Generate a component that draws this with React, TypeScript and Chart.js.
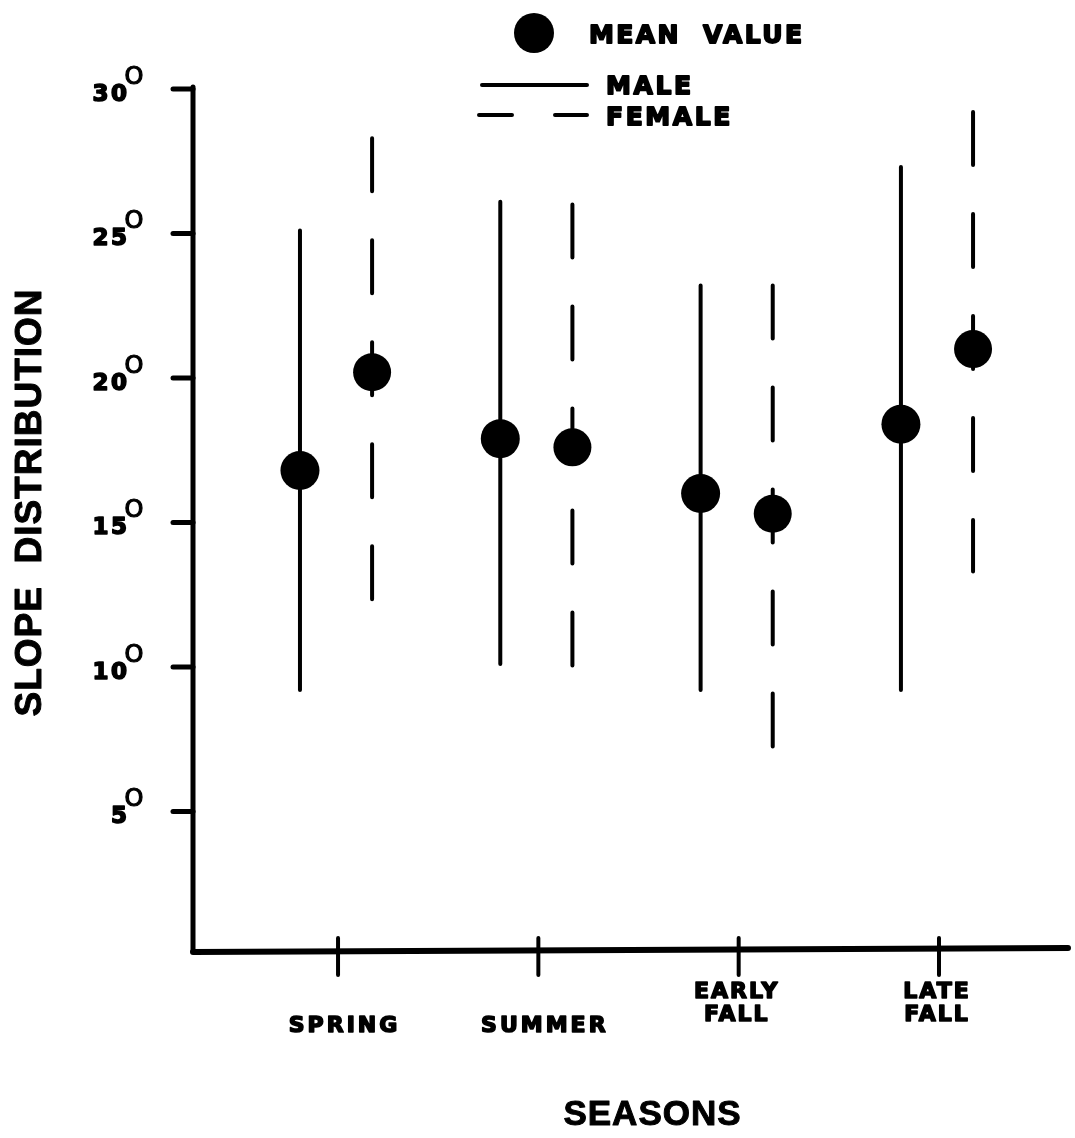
import React, { useEffect, useRef } from "react";
import { Chart, registerables } from "chart.js";

Chart.register(...registerables);

// ---- data ----
const seasonLabels: string[][] = [["SPRING"], ["SUMMER"], ["EARLY", "FALL"], ["LATE", "FALL"]];
const maleLow = [9.2, 10.1, 9.2, 9.2];
const maleHigh = [25.1, 26.1, 23.2, 27.3];
const maleMean = [16.8, 17.9, 16.0, 18.4];
const femaleLow = [12.2, 10.0, 7.2, 13.3];
const femaleHigh = [28.3, 26.0, 23.2, 29.2];
const femaleMean = [20.2, 17.6, 15.3, 21.0];
const yTicks = [5, 10, 15, 20, 25, 30];
const yTitle = "SLOPE  DISTRIBUTION";
const xTitle = "SEASONS";
const legendMean = "MEAN  VALUE";
const legendMale = "MALE";
const legendFemale = "FEMALE";

// ---- layout constants ----
const MALE_OFFSET = -0.19;
const FEMALE_OFFSET = 0.17;
const X_MIN = 0.276;
const X_MAX = 4.644;
const Y_MIN = 0.17;
const Y_MAX = 30;
const W = 1075;
const H = 1138;

function drawText(
  ctx: CanvasRenderingContext2D,
  text: string,
  x: number,
  y: number,
  font: string,
  spacing: number,
  align: "left" | "center" | "right",
  stroke = 0
) {
  ctx.save();
  ctx.font = font;
  (ctx as any).letterSpacing = spacing + "px";
  ctx.textAlign = "left";
  ctx.textBaseline = "alphabetic";
  const w = ctx.measureText(text).width - spacing;
  let lx = x;
  if (align === "center") lx = x - w / 2;
  else if (align === "right") lx = x - w;
  ctx.fillStyle = "#000";
  ctx.fillText(text, lx, y);
  if (stroke > 0) {
    ctx.strokeStyle = "#000";
    ctx.lineWidth = stroke;
    ctx.lineJoin = "round";
    ctx.strokeText(text, lx, y);
  }
  ctx.restore();
}

const decorPlugin = {
  id: "decor",
  afterDraw(chart: any) {
    const ctx: CanvasRenderingContext2D = chart.ctx;
    const area = chart.chartArea;
    const xs = chart.scales.x;
    const ys = chart.scales.y;
    ctx.save();
    ctx.strokeStyle = "#000";
    ctx.fillStyle = "#000";
    ctx.lineCap = "round";

    // y axis
    ctx.lineWidth = 5;
    ctx.beginPath();
    ctx.moveTo(area.left, ys.getPixelForValue(Y_MAX) - 2);
    ctx.lineTo(area.left, area.bottom);
    ctx.stroke();
    // x axis
    ctx.lineWidth = 6;
    ctx.beginPath();
    ctx.moveTo(area.left, area.bottom + 1);
    ctx.lineTo(area.right, area.bottom - 3);
    ctx.stroke();

    // y ticks and labels
    yTicks.forEach((v) => {
      const py = ys.getPixelForValue(v);
      ctx.lineWidth = 5;
      ctx.beginPath();
      ctx.moveTo(area.left - 20, py);
      ctx.lineTo(area.left, py);
      ctx.stroke();
      drawText(ctx, String(v), 127, py + 12, 'bold 23px "DejaVu Sans"', 2.5, "right", 1.6);
      drawText(ctx, "O", 134, py - 5, '24px "DejaVu Sans"', 0, "center", 1.2);
    });

    // x ticks and labels
    seasonLabels.forEach((lines, i) => {
      const px = xs.getPixelForValue(i + 1);
      ctx.lineWidth = 4;
      ctx.beginPath();
      ctx.moveTo(px, area.bottom - 13);
      ctx.lineTo(px, area.bottom + 24);
      ctx.stroke();
      const f = 'bold 22px "DejaVu Sans"';
      if (lines.length === 1) {
        drawText(ctx, lines[0], px + 5, 1032, f, 3, "center", 1.6);
      } else {
        drawText(ctx, lines[0], px - 3, 998, f, 2, "center", 1.6);
        drawText(ctx, lines[1], px - 3, 1021, f, 2, "center", 1.6);
      }
    });

    // axis titles
    ctx.save();
    ctx.translate(28, 503);
    ctx.rotate(-Math.PI / 2);
    drawText(ctx, yTitle, 0, 13, 'bold 37px "Liberation Sans"', 1, "center", 1);
    ctx.restore();
    drawText(ctx, xTitle, 652, 1125, 'bold 35px "Liberation Sans"', 1, "center", 1);

    // legend
    ctx.beginPath();
    ctx.arc(534, 33, 20, 0, Math.PI * 2);
    ctx.fill();
    const lf = 'bold 25px "DejaVu Sans"';
    drawText(ctx, legendMean, 589, 43, lf, 2.4, "left", 1.8);
    ctx.lineWidth = 4;
    ctx.beginPath();
    ctx.moveTo(482, 85);
    ctx.lineTo(587, 85);
    ctx.stroke();
    drawText(ctx, legendMale, 606, 94, lf, 2.6, "left", 1.8);
    ctx.beginPath();
    ctx.moveTo(479, 115);
    ctx.lineTo(512, 115);
    ctx.moveTo(555, 115);
    ctx.lineTo(587, 115);
    ctx.stroke();
    drawText(ctx, legendFemale, 606, 125, lf, 2.6, "left", 1.8);

    ctx.restore();
  },
};

export default function App() {
  const ref = useRef<HTMLCanvasElement>(null);
  useEffect(() => {
    document.body.style.margin = "0";
    const canvas = ref.current;
    if (!canvas) return;
    const datasets: any[] = [];
    datasets.push({
      label: "Male mean",
      data: maleMean.map((v, i) => ({ x: i + 1 + MALE_OFFSET, y: v })),
      pointRadius: 19.5,
      pointBackgroundColor: "#000",
      pointBorderWidth: 0,
      showLine: false,
      order: 0,
      clip: false,
    });
    datasets.push({
      label: "Female mean",
      data: femaleMean.map((v, i) => ({ x: i + 1 + FEMALE_OFFSET, y: v })),
      pointRadius: 19,
      pointBackgroundColor: "#000",
      pointBorderWidth: 0,
      showLine: false,
      order: 0,
      clip: false,
    });
    seasonLabels.forEach((s, i) => {
      const mx = i + 1 + MALE_OFFSET;
      const fx = i + 1 + FEMALE_OFFSET;
      datasets.push({
        label: "Male " + s.join(" "),
        data: [
          { x: mx, y: maleHigh[i] },
          { x: mx, y: maleLow[i] },
        ],
        showLine: true,
        borderColor: "#000",
        borderWidth: 4,
        borderCapStyle: "round",
        pointRadius: 0,
        order: 1,
        clip: false,
      });
      datasets.push({
        label: "Female " + s.join(" "),
        data: [
          { x: fx, y: femaleHigh[i] },
          { x: fx, y: femaleLow[i] },
        ],
        showLine: true,
        borderColor: "#000",
        borderWidth: 4,
        borderCapStyle: "round",
        borderDash: [53, 49],
        pointRadius: 0,
        order: 1,
        clip: false,
      });
    });

    const chart = new Chart(canvas, {
      type: "scatter",
      data: { datasets },
      options: {
        responsive: false,
        animation: false,
        devicePixelRatio: 1,
        events: [],
        layout: {
          autoPadding: false,
          padding: { left: 193, top: 89, right: W - 1068, bottom: H - 951 },
        },
        plugins: { legend: { display: false }, tooltip: { enabled: false } },
        scales: {
          x: { type: "linear", display: false, min: X_MIN, max: X_MAX },
          y: { type: "linear", display: false, min: Y_MIN, max: Y_MAX },
        },
      },
      plugins: [decorPlugin],
    });
    return () => chart.destroy();
  }, []);
  return (
    <canvas
      ref={ref}
      width={W}
      height={H}
      style={{ display: "block", width: W + "px", height: H + "px", background: "#fff" }}
    />
  );
}
